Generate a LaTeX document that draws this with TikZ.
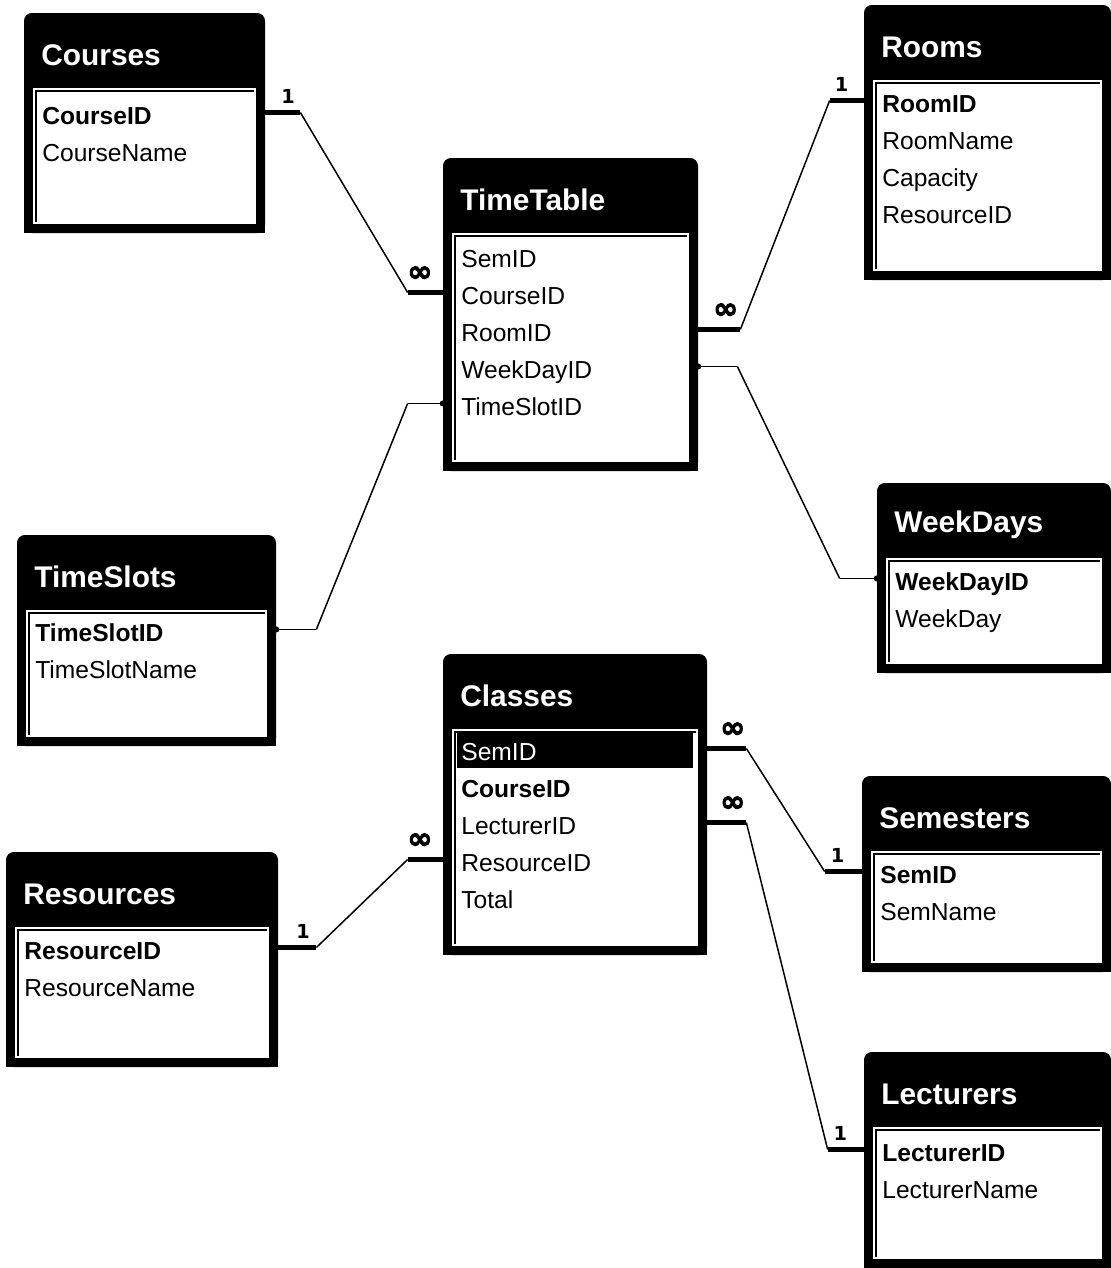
\documentclass[tikz,border=0pt]{standalone}
\usepackage{fontspec}
\setmainfont{Liberation Sans}
\newfontfamily\symfont{DejaVu Sans}
\newfontfamily\manyfont[FakeBold=3]{DejaVu Sans}
\usetikzlibrary{fit}
\tikzset{
  lift/.style={yshift=2pt},
  tabtitle/.style={anchor=west,inner sep=0pt,text=white,font=\bfseries\fontsize{17}{17}\selectfont},
  field/.style={anchor=west,inner sep=0pt,text height=11pt,text depth=1pt,font=\fontsize{14}{14}\selectfont},
  keyfield/.style={field,font=\bfseries\fontsize{14}{14}\selectfont},
  stub/.style={line width=2.5pt},
  link/.style={line width=.85pt},
  card/.style={inner sep=1pt,above=3pt,pos=.65},
  cardone/.style={card,font=\symfont\bfseries\fontsize{11}{11}\selectfont},
  cardmany/.style={card,above=1pt,font=\manyfont\bfseries\fontsize{17}{17}\selectfont}}
% table frame: name, left, top, right, bottom, title
\newcommand\dbtable[6]{%
  \fill[rounded corners=4.5pt] (#2,#3) rectangle (#4,#5);
  \fill (#2,#3+30) rectangle (#4,#5);
  \fill[white] (#2+9,#3+75) rectangle (#4-9,#5-9);
  \draw[line width=.6pt] (#2+12,#5-11) |- (#4-11,#3+78);
  \node[fit={(#2,#3) (#4,#5)},inner sep=0pt] (#1) {};
  \node[tabtitle] (#1-title) at (#2+17,#3+42) {#6};}

\begin{document}
\begin{tikzpicture}[x=.02cm,y=-.02cm]
\useasboundingbox (0,0) rectangle (1111,1268);
% tables
\dbtable{crs}{24}{13}{265}{233}{Courses}
\node[keyfield] (crs-id) at (42,116) {CourseID};
\node[field] (crs-name) at (42,153) {CourseName};
\dbtable{rms}{864}{5}{1111}{280}{Rooms}
\node[keyfield] (rms-id) at (882,104) {RoomID};
\node[field] (rms-name) at (882,141) {RoomName};
\node[field] (rms-cap) at (882,178) {Capacity};
\node[field] (rms-res) at (882,215) {ResourceID};
\dbtable{tt}{443}{158}{698}{471}{TimeTable}
\node[field] (tt-sem) at (461,259) {SemID};
\node[field] (tt-crs) at (461,296) {CourseID};
\node[field] (tt-room) at (461,333) {RoomID};
\node[field] (tt-wd) at (461,370) {WeekDayID};
\node[field] (tt-ts) at (461,407) {TimeSlotID};
\dbtable{ts}{17}{535}{276}{746}{TimeSlots}
\node[keyfield] (ts-id) at (35,633) {TimeSlotID};
\node[field] (ts-name) at (35,670) {TimeSlotName};
\dbtable{wd}{877}{483}{1111}{673}{WeekDays}
\node[keyfield] (wd-id) at (895,582) {WeekDayID};
\node[field] (wd-name) at (895,619) {WeekDay};
\dbtable{cls}{443}{654}{707}{955}{Classes}
\fill (457,731) rectangle (693,768);
\node[field,text=white] (cls-sem) at (461,752) {SemID};
\node[keyfield] (cls-crs) at (461,789) {CourseID};
\node[field] (cls-lec) at (461,826) {LecturerID};
\node[field] (cls-res) at (461,863) {ResourceID};
\node[field] (cls-tot) at (461,900) {Total};
\dbtable{sem}{862}{776}{1111}{972}{Semesters}
\node[keyfield] (sem-id) at (880,875) {SemID};
\node[field] (sem-name) at (880,912) {SemName};
\dbtable{res}{6}{852}{278}{1067}{Resources}
\node[keyfield] (res-id) at (24,951) {ResourceID};
\node[field] (res-name) at (24,988) {ResourceName};
\dbtable{lec}{864}{1052}{1111}{1268}{Lecturers}
\node[keyfield] (lec-id) at (882,1153) {LecturerID};
\node[field] (lec-name) at (882,1190) {LecturerName};
% relationships
\draw[stub] ([lift]crs.east |- crs-id) -- ++(35,0) node[cardone] (crs-one) {1} coordinate (crs-a);
\draw[stub] ([lift]tt.west |- tt-crs) -- ++(-35,0) node[cardmany] (tt-many1) {∞} coordinate (tt-a);
\draw[link] (crs-a) -- (tt-a);
\draw[stub] ([lift]rms.west |- rms-id) -- ++(-34,0) node[cardone] (rms-one) {1} coordinate (rms-a);
\draw[stub] ([lift]tt.east |- tt-room) -- ++(42,0) node[cardmany] (tt-many2) {∞} coordinate (tt-b);
\draw[link] (rms-a) -- (tt-b);
\draw[link] ([lift]tt.east |- tt-wd) -- ++(39,0) coordinate (tt-c);
\draw[link] ([lift]wd.west |- wd-id) -- ++(-37,0) coordinate (wd-a);
\draw[link] (tt-c) -- (wd-a);
\fill ([lift]tt.east |- tt-wd) circle (3) ([lift]wd.west |- wd-id) circle (3);
\draw[link] ([lift]ts.east |- ts-id) -- ++(40,0) coordinate (ts-a);
\draw[link] ([lift]tt.west |- tt-ts) -- ++(-35,0) coordinate (tt-d);
\draw[link] (ts-a) -- (tt-d);
\fill ([lift]ts.east |- ts-id) circle (3) ([lift]tt.west |- tt-ts) circle (3);
\draw[stub] ([lift]cls.east |- cls-sem) -- ++(39,0) node[cardmany] (cls-many1) {∞} coordinate (cls-a);
\draw[stub] ([lift]sem.west |- sem-id) -- ++(-37,0) node[cardone] (sem-one) {1} coordinate (sem-a);
\draw[link] (cls-a) -- (sem-a);
\draw[stub] ([lift]cls.east |- cls-lec) -- ++(39,0) node[cardmany] (cls-many2) {∞} coordinate (cls-b);
\draw[stub] ([lift]lec.west |- lec-id) -- ++(-36,0) node[cardone] (lec-one) {1} coordinate (lec-a);
\draw[link] (cls-b) -- (lec-a);
\draw[stub] ([lift]res.east |- res-id) -- ++(38,0) node[cardone] (res-one) {1} coordinate (res-a);
\draw[stub] ([lift]cls.west |- cls-res) -- ++(-35,0) node[cardmany] (cls-many3) {∞} coordinate (cls-c);
\draw[link] (res-a) -- (cls-c);
\end{tikzpicture}
\end{document}
